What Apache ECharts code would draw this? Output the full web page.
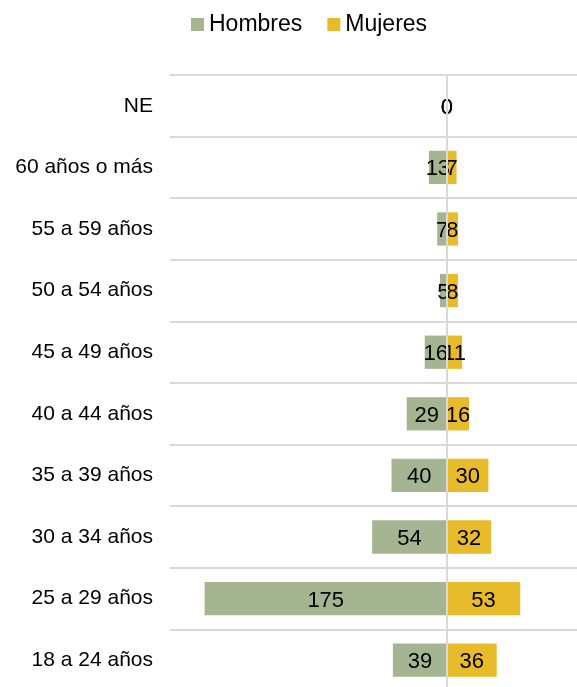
<!DOCTYPE html>
<html>
<head>
	<meta charset="UTF-8">
	<title>Hombres y Mujeres por edad</title>
	<style>
		html, body { margin: 0; padding: 0; background: #fff; }
		#container { width: 577px; height: 687px; }
	</style>
</head>
<body>
	<div id="container"></div>
	<script src="https://cdn.jsdelivr.net/npm/echarts@6/dist/echarts.min.js"></script>
	<script>
		// categorias de abajo hacia arriba
		var categorias = ['18 a 24 años', '25 a 29 años', '30 a 34 años', '35 a 39 años', '40 a 44 años',
			'45 a 49 años', '50 a 54 años', '55 a 59 años', '60 años o más', 'NE'];
		var hombres = [39, 175, 54, 40, 29, 16, 5, 7, 13, 0];
		var mujeres = [36, 53, 32, 30, 16, 11, 8, 8, 7, 0];

		var myChart = echarts.init(document.getElementById('container'));

		var option = {
			animation: false,
			color: ['#A5B592', '#E8BB2A'],
			textStyle: { fontFamily: '"Liberation Sans", Arial, sans-serif' },
			legend: {
				left: 186,
				top: 8,
				itemWidth: 13,
				itemHeight: 13,
				itemGap: 25,
				icon: 'rect',
				textStyle: { fontSize: 23, color: '#000' },
				data: ['Hombres', 'Mujeres']
			},
			grid: {
				left: 170,
				right: 0,
				top: 75,
				height: 616,
				outerBoundsMode: 'none'
			},
			xAxis: {
				type: 'value',
				min: -200,
				max: 94,
				show: false
			},
			yAxis: {
				type: 'category',
				data: categorias,
				axisLine: { show: false },
				axisTick: { show: false },
				axisLabel: { fontSize: 21, color: '#000', margin: 17, padding: [4, 0, 0, 0] },
				splitLine: { show: true, lineStyle: { color: '#D9D9D9', width: 2 } }
			},
			series: [
				{
					name: 'Hombres',
					type: 'bar',
					stack: 'total',
					barWidth: '54%',
					data: hombres.map(function (v) { return -v; }),
					label: {
						show: true,
						position: 'inside',
						offset: [0, 2],
						fontSize: 22,
						color: '#000',
						formatter: function (p) { return Math.abs(p.value); }
					},
					markLine: {
						silent: true,
						symbol: 'none',
						label: { show: false },
						lineStyle: { color: '#D9D9D9', width: 2, type: 'solid' },
						data: [{ xAxis: 0 }]
					}
				},
				{
					name: 'Mujeres',
					type: 'bar',
					stack: 'total',
					barWidth: '54%',
					data: mujeres,
					label: {
						show: true,
						position: 'inside',
						offset: [0, 2],
						fontSize: 22,
						color: '#000'
					}
				}
			]
		};

		myChart.setOption(option, true);
	</script>
</body>
</html>
